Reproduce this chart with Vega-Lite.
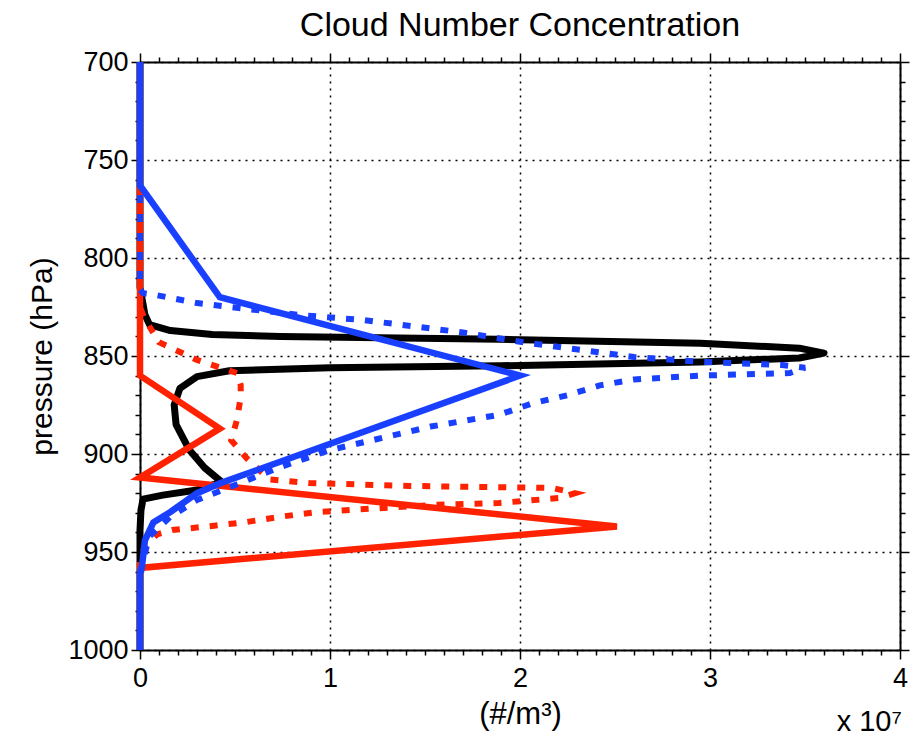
{
  "$schema": "https://vega.github.io/schema/vega-lite/v6.json",
  "width": 760,
  "height": 588,
  "autosize": "none",
  "padding": {"left": 140, "top": 62, "right": 13, "bottom": 86},
  "background": "white",
  "config": {"font": "Liberation Sans", "view": {"stroke": null}},
  "title": {"text": "Cloud Number Concentration", "fontSize": 34, "fontWeight": "normal", "color": "black", "offset": 5, "anchor": "middle"},
  "data": {"values": [
    {"s": "k", "i": 0, "x": 0, "p": 700},
    {"s": "k", "i": 1, "x": 0, "p": 815},
    {"s": "k", "i": 2, "x": 0.026, "p": 829},
    {"s": "k", "i": 3, "x": 0.05, "p": 834},
    {"s": "k", "i": 4, "x": 0.16, "p": 837},
    {"s": "k", "i": 5, "x": 0.38, "p": 839},
    {"s": "k", "i": 6, "x": 0.74, "p": 840},
    {"s": "k", "i": 7, "x": 1.89, "p": 841.5},
    {"s": "k", "i": 8, "x": 2.95, "p": 843.5},
    {"s": "k", "i": 9, "x": 3.47, "p": 846},
    {"s": "k", "i": 10, "x": 3.6, "p": 848.5},
    {"s": "k", "i": 11, "x": 3.47, "p": 851},
    {"s": "k", "i": 12, "x": 2.95, "p": 853},
    {"s": "k", "i": 13, "x": 1.89, "p": 855},
    {"s": "k", "i": 14, "x": 1.0, "p": 856},
    {"s": "k", "i": 15, "x": 0.47, "p": 857.5},
    {"s": "k", "i": 16, "x": 0.3, "p": 860.5},
    {"s": "k", "i": 17, "x": 0.21, "p": 866.5},
    {"s": "k", "i": 18, "x": 0.18, "p": 875},
    {"s": "k", "i": 19, "x": 0.19, "p": 885},
    {"s": "k", "i": 20, "x": 0.26, "p": 898},
    {"s": "k", "i": 21, "x": 0.34, "p": 907},
    {"s": "k", "i": 22, "x": 0.43, "p": 914.3},
    {"s": "k", "i": 23, "x": 0.3, "p": 918.4},
    {"s": "k", "i": 24, "x": 0.12, "p": 921},
    {"s": "k", "i": 25, "x": 0.016, "p": 923},
    {"s": "k", "i": 26, "x": 0.005, "p": 928.6},
    {"s": "k", "i": 27, "x": 0, "p": 939},
    {"s": "k", "i": 28, "x": 0, "p": 1000},

    {"s": "r", "i": 0, "x": 0, "p": 700},
    {"s": "r", "i": 1, "x": 0, "p": 860},
    {"s": "r", "i": 2, "x": 0.42, "p": 887},
    {"s": "r", "i": 3, "x": 0, "p": 912},
    {"s": "r", "i": 4, "x": 2.51, "p": 937},
    {"s": "r", "i": 5, "x": 0.015, "p": 958},
    {"s": "r", "i": 6, "x": 0, "p": 960},
    {"s": "r", "i": 7, "x": 0, "p": 1000},

    {"s": "rd", "i": 0, "x": 0, "p": 700},
    {"s": "rd", "i": 1, "x": 0, "p": 825},
    {"s": "rd", "i": 2, "x": 0.026, "p": 831.6},
    {"s": "rd", "i": 3, "x": 0.05, "p": 835},
    {"s": "rd", "i": 4, "x": 0.1, "p": 843},
    {"s": "rd", "i": 5, "x": 0.3, "p": 852},
    {"s": "rd", "i": 6, "x": 0.51, "p": 858.7},
    {"s": "rd", "i": 7, "x": 0.53, "p": 864.8},
    {"s": "rd", "i": 8, "x": 0.53, "p": 871},
    {"s": "rd", "i": 9, "x": 0.51, "p": 882.7},
    {"s": "rd", "i": 10, "x": 0.48, "p": 893},
    {"s": "rd", "i": 11, "x": 0.56, "p": 902},
    {"s": "rd", "i": 12, "x": 0.68, "p": 913},
    {"s": "rd", "i": 13, "x": 0.89, "p": 914.8},
    {"s": "rd", "i": 14, "x": 1.42, "p": 916.3},
    {"s": "rd", "i": 15, "x": 2.17, "p": 917.3},
    {"s": "rd", "i": 16, "x": 2.29, "p": 920},
    {"s": "rd", "i": 17, "x": 2.21, "p": 922.4},
    {"s": "rd", "i": 18, "x": 1.89, "p": 925},
    {"s": "rd", "i": 19, "x": 1.54, "p": 926},
    {"s": "rd", "i": 20, "x": 0.93, "p": 929.6},
    {"s": "rd", "i": 21, "x": 0.74, "p": 932},
    {"s": "rd", "i": 22, "x": 0.56, "p": 934.7},
    {"s": "rd", "i": 23, "x": 0.38, "p": 936.7},
    {"s": "rd", "i": 24, "x": 0.17, "p": 938.8},
    {"s": "rd", "i": 25, "x": 0.09, "p": 941},
    {"s": "rd", "i": 26, "x": 0.026, "p": 947},
    {"s": "rd", "i": 27, "x": 0, "p": 954},
    {"s": "rd", "i": 28, "x": 0, "p": 1000},

    {"s": "b", "i": 0, "x": 0, "p": 700},
    {"s": "b", "i": 1, "x": 0, "p": 763},
    {"s": "b", "i": 2, "x": 0.42, "p": 820},
    {"s": "b", "i": 3, "x": 2.0, "p": 860},
    {"s": "b", "i": 4, "x": 0.42, "p": 915},
    {"s": "b", "i": 5, "x": 0.3, "p": 920},
    {"s": "b", "i": 6, "x": 0.16, "p": 929.6},
    {"s": "b", "i": 7, "x": 0.07, "p": 935},
    {"s": "b", "i": 8, "x": 0.026, "p": 944},
    {"s": "b", "i": 9, "x": 0.01, "p": 957.7},
    {"s": "b", "i": 10, "x": 0, "p": 960},
    {"s": "b", "i": 11, "x": 0, "p": 1000},

    {"s": "bd", "i": 0, "x": 0, "p": 700},
    {"s": "bd", "i": 1, "x": 0, "p": 816},
    {"s": "bd", "i": 2, "x": 0.016, "p": 818},
    {"s": "bd", "i": 3, "x": 0.09, "p": 819},
    {"s": "bd", "i": 4, "x": 0.3, "p": 823},
    {"s": "bd", "i": 5, "x": 0.83, "p": 829},
    {"s": "bd", "i": 6, "x": 1.17, "p": 831.6},
    {"s": "bd", "i": 7, "x": 1.7, "p": 838},
    {"s": "bd", "i": 8, "x": 2.02, "p": 843},
    {"s": "bd", "i": 9, "x": 2.25, "p": 846},
    {"s": "bd", "i": 10, "x": 2.6, "p": 850.5},
    {"s": "bd", "i": 11, "x": 2.95, "p": 853},
    {"s": "bd", "i": 12, "x": 3.38, "p": 854.6},
    {"s": "bd", "i": 13, "x": 3.5, "p": 856},
    {"s": "bd", "i": 14, "x": 3.42, "p": 858.7},
    {"s": "bd", "i": 15, "x": 2.95, "p": 860},
    {"s": "bd", "i": 16, "x": 2.6, "p": 862},
    {"s": "bd", "i": 17, "x": 2.42, "p": 865},
    {"s": "bd", "i": 18, "x": 2.25, "p": 870},
    {"s": "bd", "i": 19, "x": 2.07, "p": 874},
    {"s": "bd", "i": 20, "x": 1.89, "p": 880},
    {"s": "bd", "i": 21, "x": 1.53, "p": 886},
    {"s": "bd", "i": 22, "x": 1.0, "p": 898},
    {"s": "bd", "i": 23, "x": 0.74, "p": 906.6},
    {"s": "bd", "i": 24, "x": 0.47, "p": 917},
    {"s": "bd", "i": 25, "x": 0.3, "p": 923.5},
    {"s": "bd", "i": 26, "x": 0.16, "p": 932},
    {"s": "bd", "i": 27, "x": 0.05, "p": 942},
    {"s": "bd", "i": 28, "x": 0.016, "p": 954},
    {"s": "bd", "i": 29, "x": 0, "p": 964},
    {"s": "bd", "i": 30, "x": 0, "p": 1000}
  ]},
  "resolve": {"axis": {"x": "independent", "y": "independent"}},
  "layer": [
    {
      "transform": [{"filter": "datum.s === 'k'"}],
      "mark": {"type": "line", "color": "black", "strokeWidth": 7, "strokeJoin": "round"},
      "encoding": {
        "x": {"field": "x", "type": "quantitative",
          "scale": {"domain": [0, 4], "nice": false, "zero": false},
          "axis": {
            "orient": "bottom",
            "values": [0,0.1,0.2,0.3,0.4,0.5,0.6,0.7,0.8,0.9,1,1.1,1.2,1.3,1.4,1.5,1.6,1.7,1.8,1.9,2,2.1,2.2,2.3,2.4,2.5,2.6,2.7,2.8,2.9,3,3.1,3.2,3.3,3.4,3.5,3.6,3.7,3.8,3.9,4],
            "labelExpr": "abs(datum.value - round(datum.value)) < 0.001 ? format(round(datum.value), 'd') : ''",
            "labelFontSize": 27, "labelColor": "black", "labelPadding": 6, "labelFlush": false, "labelOverlap": false,
            "title": "(#/m³)", "titleFontSize": 31, "titleFontWeight": "normal", "titleColor": "black", "titlePadding": 8,
            "domainColor": "black", "domainWidth": 2,
            "tickColor": "black", "tickWidth": 1.5,
            "tickSize": {"condition": {"test": "abs(datum.value - round(datum.value)) < 0.001", "value": 9}, "value": 5},
            "grid": true, "gridColor": "black", "gridDash": [2, 5], "gridWidth": 1.5,
            "gridOpacity": {"condition": {"test": "abs(datum.value - round(datum.value)) < 0.001", "value": 1}, "value": 0}
          }
        },
        "y": {"field": "p", "type": "quantitative",
          "scale": {"domain": [700, 1000], "reverse": true, "nice": false, "zero": false},
          "axis": {
            "orient": "left",
            "values": [700,710,720,730,740,750,760,770,780,790,800,810,820,830,840,850,860,870,880,890,900,910,920,930,940,950,960,970,980,990,1000],
            "labelExpr": "datum.value % 50 === 0 ? format(datum.value, 'd') : ''",
            "labelFontSize": 27, "labelColor": "black", "labelPadding": 3, "labelFlush": false, "labelOverlap": false,
            "title": "pressure (hPa)", "titleFontSize": 30, "titleFontWeight": "normal", "titleColor": "black", "titlePadding": 10,
            "domainColor": "black", "domainWidth": 2,
            "tickColor": "black", "tickWidth": 1.5,
            "tickSize": {"condition": {"test": "datum.value % 50 === 0", "value": 9}, "value": 5},
            "grid": true, "gridColor": "black", "gridDash": [2, 5], "gridWidth": 1.5,
            "gridOpacity": {"condition": {"test": "datum.value % 50 === 0", "value": 1}, "value": 0}
          }
        },
        "order": {"field": "i", "type": "quantitative"}
      }
    },
    {
      "transform": [{"filter": "datum.s === 'r'"}],
      "mark": {"type": "line", "color": "#ff2200", "strokeWidth": 6.5, "strokeJoin": "miter"},
      "encoding": {
        "x": {"field": "x", "type": "quantitative",
          "scale": {"domain": [0, 4], "nice": false, "zero": false},
          "axis": {
            "orient": "top",
            "values": [0,0.1,0.2,0.3,0.4,0.5,0.6,0.7,0.8,0.9,1,1.1,1.2,1.3,1.4,1.5,1.6,1.7,1.8,1.9,2,2.1,2.2,2.3,2.4,2.5,2.6,2.7,2.8,2.9,3,3.1,3.2,3.3,3.4,3.5,3.6,3.7,3.8,3.9,4],
            "labels": false, "title": null, "grid": false,
            "domainColor": "black", "domainWidth": 2,
            "tickColor": "black", "tickWidth": 1.5,
            "tickSize": {"condition": {"test": "abs(datum.value - round(datum.value)) < 0.001", "value": 9}, "value": 5}
          }
        },
        "y": {"field": "p", "type": "quantitative",
          "scale": {"domain": [700, 1000], "reverse": true, "nice": false, "zero": false},
          "axis": {
            "orient": "right",
            "values": [700,710,720,730,740,750,760,770,780,790,800,810,820,830,840,850,860,870,880,890,900,910,920,930,940,950,960,970,980,990,1000],
            "labels": false, "title": null, "grid": false,
            "domainColor": "black", "domainWidth": 2,
            "tickColor": "black", "tickWidth": 1.5,
            "tickSize": {"condition": {"test": "datum.value % 50 === 0", "value": 9}, "value": 5}
          }
        },
        "order": {"field": "i", "type": "quantitative"}
      }
    },
    {
      "transform": [{"filter": "datum.s === 'rd'"}],
      "mark": {"type": "line", "color": "#ff2200", "strokeWidth": 6, "strokeDash": [8, 11], "strokeCap": "butt"},
      "encoding": {
        "x": {"field": "x", "type": "quantitative", "scale": {"domain": [0, 4], "nice": false, "zero": false}, "axis": null},
        "y": {"field": "p", "type": "quantitative", "scale": {"domain": [700, 1000], "reverse": true, "nice": false, "zero": false}, "axis": null},
        "order": {"field": "i", "type": "quantitative"}
      }
    },
    {
      "transform": [{"filter": "datum.s === 'b'"}],
      "mark": {"type": "line", "color": "#1a40ff", "strokeWidth": 6.5, "strokeJoin": "miter"},
      "encoding": {
        "x": {"field": "x", "type": "quantitative", "scale": {"domain": [0, 4], "nice": false, "zero": false}, "axis": null},
        "y": {"field": "p", "type": "quantitative", "scale": {"domain": [700, 1000], "reverse": true, "nice": false, "zero": false}, "axis": null},
        "order": {"field": "i", "type": "quantitative"}
      }
    },
    {
      "transform": [{"filter": "datum.s === 'bd'"}],
      "mark": {"type": "line", "color": "#1a40ff", "strokeWidth": 6, "strokeDash": [8, 11], "strokeCap": "butt"},
      "encoding": {
        "x": {"field": "x", "type": "quantitative", "scale": {"domain": [0, 4], "nice": false, "zero": false}, "axis": null},
        "y": {"field": "p", "type": "quantitative", "scale": {"domain": [700, 1000], "reverse": true, "nice": false, "zero": false}, "axis": null},
        "order": {"field": "i", "type": "quantitative"}
      }
    },
    {
      "data": {"values": [{"note": "x 10⁷"}]},
      "mark": {"type": "text", "align": "right", "baseline": "middle", "fontSize": 29, "fontWeight": "normal", "fill": "black", "dx": 2, "dy": 72},
      "encoding": {
        "text": {"field": "note", "type": "nominal"},
        "x": {"datum": 4, "type": "quantitative", "scale": {"domain": [0, 4], "nice": false, "zero": false}, "axis": null},
        "y": {"datum": 1000, "type": "quantitative", "scale": {"domain": [700, 1000], "reverse": true, "nice": false, "zero": false}, "axis": null}
      }
    }
  ]
}
